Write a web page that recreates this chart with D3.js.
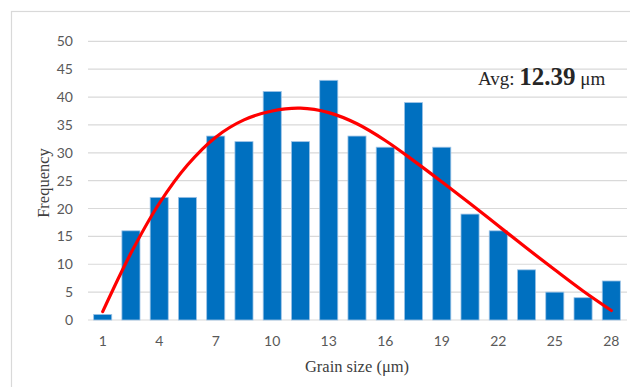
<!DOCTYPE html>
<html>
    <head>
        <style>
body {
    margin: 0;
    background: #fff;
}
.tick text {
    font-family: Lato, "Open Sans", sans-serif;
    font-size: 14px;
    fill: #595959;
}
.title {
    font-family: "Liberation Serif", "DejaVu Serif", serif;
    fill: #404040;
}
        </style>
    </head>
    <body>
        <div id="chart"></div>
        <script src="https://d3js.org/d3.v7.min.js"></script>
        <script>

// grain size classes (um), every other one gets a label
const sizes = [1, 2.5, 4, 5.5, 7, 8.5, 10, 11.5, 13, 14.5, 16, 17.5, 19, 20.5, 22, 23.5, 25, 26.5, 28]
const counts = [1, 16, 22, 22, 33, 32, 41, 32, 43, 33, 31, 39, 31, 19, 16, 9, 5, 4, 7]
// red trend curve at each class
const trend = [1.5, 12, 20.9, 27.8, 32.8, 35.9, 37.5, 38, 37.2, 35.2, 32.2, 28.6, 24.8, 20.9, 16.9, 12.9, 9, 5.2, 1.7]
const xLabels = [1, 4, 7, 10, 13, 16, 19, 22, 25, 28]
const yTicks = [0, 5, 10, 15, 20, 25, 30, 35, 40, 45, 50]

const W = 630, H = 387
const margin = {top: 41.3, right: 3, bottom: 67, left: 88}
const width = W - margin.left - margin.right
const height = H - margin.top - margin.bottom

const svg = d3.select("#chart").append("svg")
    .attr("width", W)
    .attr("height", H)

// chart frame (only top and left edges show)
svg.append("rect")
    .attr("x", 11.5)
    .attr("y", 11.5)
    .attr("width", 640)
    .attr("height", 400)
    .attr("fill", "none")
    .attr("stroke", "#d9d9d9")
    .attr("stroke-width", 1.2)

const g = svg.append("g")
    .attr("transform", "translate(" + margin.left + "," + margin.top + ")")

const x = d3.scaleBand()
    .domain(sizes)
    .range([0, width - 1])
    .paddingInner(0.36)
    .paddingOuter(0.2)
const y = d3.scaleLinear()
    .domain([0, 50])
    .range([height, 0])

// grid lines
g.append("g")
    .selectAll("line")
    .data(yTicks)
    .join("line")
    .attr("x1", 0)
    .attr("x2", width)
    .attr("y1", d => y(d))
    .attr("y2", d => y(d))
    .attr("stroke", "#d9d9d9")
    .attr("stroke-width", 1.2)

// y axis
g.append("g")
    .call(d3.axisLeft(y).tickValues(yTicks).tickSize(0).tickPadding(15))
    .call(a => a.select(".domain").remove())

// x axis
g.append("g")
    .attr("transform", "translate(0," + height + ")")
    .call(d3.axisBottom(x).tickValues(xLabels).tickSize(0).tickPadding(16))
    .call(a => a.select(".domain").remove())

g.selectAll(".bar")
    .data(sizes)
    .join("rect")
    .attr("class", "bar")
    .attr("x", d => x(d))
    .attr("width", x.bandwidth())
    .attr("y", (d, i) => y(counts[i]))
    .attr("height", (d, i) => height - y(counts[i]))
    .attr("fill", "#0070c0")
    .attr("stroke", "#9dc3e6")
    .attr("stroke-width", 0.8)

const line = d3.line()
    .x((d, i) => x(sizes[i]) + x.bandwidth() / 2)
    .y(d => y(d))
    .curve(d3.curveCatmullRom)

g.append("path")
    .datum(trend)
    .attr("d", line)
    .attr("fill", "none")
    .attr("stroke", "#ff0000")
    .attr("stroke-width", 3.2)
    .attr("stroke-linecap", "round")

// axis titles
svg.append("text")
    .attr("class", "title")
    .attr("x", 357)
    .attr("y", 372)
    .attr("text-anchor", "middle")
    .style("font-size", "16.5px")
    .text("Grain size (μm)")

svg.append("text")
    .attr("class", "title")
    .attr("transform", "translate(49,183) rotate(-90)")
    .attr("text-anchor", "middle")
    .style("font-size", "16.5px")
    .text("Frequency")

// average label
const avg = svg.append("text")
    .attr("class", "title")
    .attr("x", 478)
    .attr("y", 85)
    .style("fill", "#262626")
avg.append("tspan").style("font-size", "19px").text("Avg: ")
avg.append("tspan").style("font-size", "25px").style("font-weight", "bold").text("12.39")
avg.append("tspan").style("font-size", "19px").text(" μm")

        </script>
    </body>
</html>
